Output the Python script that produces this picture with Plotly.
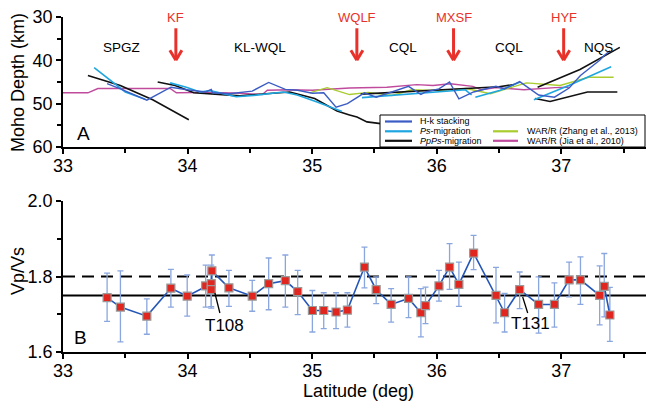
import plotly.graph_objects as go

# ---------------- Panel A: Moho depth profiles ----------------
hk_lat = [33.354, 33.461, 33.673, 33.866, 33.997, 34.145, 34.19, 34.20, 34.332, 34.519,
          34.651, 34.785, 34.884, 35.002, 35.093, 35.192, 35.283, 35.420, 35.514, 35.634,
          35.774, 35.873, 35.910, 36.018, 36.103, 36.178, 36.296, 36.476, 36.545, 36.666,
          36.818, 36.945, 37.063, 37.154, 37.308, 37.345, 37.390]
hk_depth = [45.4, 46.6, 49.2, 46.2, 46.8, 47.3, 46.7, 47.5, 47.7, 47.1,
            45.1, 46.7, 46.9, 47.6, 47.5, 50.8, 50.0, 47.5, 48.5, 47.3,
            46.0, 47.9, 47.3, 46.6, 45.0, 48.9, 47.3, 46.0, 46.6, 44.9,
            48.0, 48.5, 46.4, 43.5, 40.0, 38.9, 37.8]

ps_lat = [33.25, 33.42, 33.50, 33.66, None,
          33.86, 33.99, 34.10, 34.18, 34.39, 34.53, 34.77, 34.88, 35.04, 35.24, None,
          35.40, 35.55, 35.76, 36.03, 36.23, 36.28, None,
          36.31, 36.51, 36.67, None,
          36.78, 37.06, 37.40]
ps_depth = [41.7, 45.4, 47.3, 49.0, None,
            45.2, 46.2, 47.3, 47.0, 48.4, 48.1, 47.3, 48.0, 49.6, 51.8, None,
            48.6, 48.3, 47.8, 47.3, 46.8, 48.0, None,
            48.5, 46.9, 45.0, None,
            49.1, 45.8, 41.5]

ppps_lat = [33.20, 33.46, 33.72, 34.01, None,
            33.76, 33.90, 34.05, 34.18, 34.26, 34.42, 34.63, 34.82, 35.02, 35.20, 35.30,
            35.36, 35.44, 35.55, 35.65, None,
            35.39, 35.80, 36.10, 36.35, 36.50, 36.62, None,
            36.81, 37.15, 37.47, None,
            36.79, 36.91, 37.21, 37.45]
ppps_depth = [43.5, 45.8, 49.1, 53.7, None,
              45.0, 45.8, 47.5, 47.7, 47.8, 48.2, 47.7, 47.3, 48.8, 51.7, 52.6,
              53.1, 54.2, 54.6, 54.7, None,
              47.8, 47.2, 46.8, 46.4, 46.1, 45.6, None,
              46.2, 42.1, 37.0, None,
              48.8, 49.5, 47.3, 47.3]

zhang_lat = [34.98, 35.12, 35.30, 35.45, 35.64, 35.80, 36.00, 36.24, 36.43, 36.72,
             36.99, 37.22, 37.42]
zhang_depth = [47.5, 46.3, 47.9, 47.4, 48.1, 46.8, 47.0, 46.5, 47.7, 45.2,
               45.8, 43.9, 43.9]

jia_lat = [33.00, 33.20, 33.28, 33.86, 33.91, 34.20, 34.42, 34.60, 34.64, 34.82,
           35.00, 35.30, 35.60, 35.76, 35.84, 35.97, 36.11, 36.29, 36.36, 36.48,
           36.70, 36.95, 37.06]
jia_depth = [47.5, 47.5, 46.5, 46.5, 47.5, 47.4, 47.6, 47.9, 46.9, 46.8,
             46.9, 46.4, 46.2, 45.8, 45.6, 45.8, 45.4, 46.0, 46.8, 46.3,
             46.8, 46.3, 46.2]

# Tectonic units and faults
unit_names = ["SPGZ", "KL-WQL", "CQL", "CQL", "NQS"]
unit_lat = [33.47, 34.58, 35.73, 36.58, 37.30]
fault_names = ["KF", "WQLF", "MXSF", "HYF"]
fault_lat = [33.906, 35.359, 36.135, 37.019]

# ---------------- Panel B: Vp/Vs ratios ----------------
sta_lat = [33.354, 33.461, 33.673, 33.866, 33.997, 34.145, 34.190, 34.190, 34.195, 34.332,
           34.519, 34.651, 34.785, 34.884, 35.002, 35.093, 35.192, 35.283, 35.420, 35.514,
           35.634, 35.774, 35.873, 35.910, 36.018, 36.103, 36.178, 36.296, 36.476, 36.545,
           36.666, 36.818, 36.945, 37.063, 37.154, 37.308, 37.345, 37.390]
vpvs = [1.744, 1.719, 1.695, 1.769, 1.748, 1.775, 1.781, 1.765, 1.815, 1.770,
        1.748, 1.781, 1.789, 1.760, 1.710, 1.710, 1.706, 1.711, 1.825, 1.765,
        1.726, 1.742, 1.704, 1.723, 1.775, 1.825, 1.779, 1.862, 1.750, 1.704,
        1.765, 1.726, 1.726, 1.791, 1.791, 1.750, 1.774, 1.698]
vpvs_hi = [1.809, 1.815, 1.741, 1.819, 1.804, 1.830, 1.830, 1.822, 1.857, 1.816,
           1.790, 1.849, 1.857, 1.816, 1.763, 1.757, 1.757, 1.757, 1.878, 1.799,
           1.768, 1.799, 1.768, 1.772, 1.816, 1.887, 1.838, 1.909, 1.824, 1.755,
           1.812, 1.799, 1.783, 1.838, 1.852, 1.828, 1.861, 1.771]
vpvs_lo = [1.681, 1.627, 1.647, 1.719, 1.695, 1.719, 1.720, 1.716, 1.755, 1.721,
           1.708, 1.712, 1.719, 1.699, 1.653, 1.662, 1.662, 1.666, 1.770, 1.728,
           1.679, 1.691, 1.640, 1.675, 1.735, 1.766, 1.721, 1.818, 1.677, 1.653,
           1.715, 1.650, 1.666, 1.746, 1.726, 1.672, 1.693, 1.628]
ref_solid = 1.75
ref_dashed = 1.80
labelled_sta = [("T108", 34.195, 1.765), ("T131", 36.666, 1.765)]

FONT = "Liberation Sans, Arial, sans-serif"
C_HK, C_PS, C_PPPS = "#3b5cc4", "#1ea6e0", "#111111"
C_ZHANG, C_JIA = "#a9cc2e", "#c04b9d"
C_RED = "#e8312a"

# Page geometry (pixels) used to place paper-referenced decorations
W, H = 646, 408
ML, MR, MT, MB = 63, 0, 17, 56
PW, PH = W - ML - MR, H - MT - MB


def paper(px, py):
    return (px - ML) / PW, (H - MB - py) / PH


def label(px, py, text, size, color="black", angle=0, xanchor="center"):
    fx, fy = paper(px, py)
    return dict(x=fx, y=fy, xref="paper", yref="paper", text=text, showarrow=False,
                textangle=angle, xanchor=xanchor, yanchor="middle",
                font=dict(family=FONT, size=size, color=color))


fig = go.Figure()

for lat, dep, col, name, w in [
    (jia_lat, jia_depth, C_JIA, "WAR/R (Jia et al., 2010)", 1.4),
    (zhang_lat, zhang_depth, C_ZHANG, "WAR/R (Zhang et al., 2013)", 1.4),
    (ppps_lat, ppps_depth, C_PPPS, "PpPs-migration", 1.6),
    (ps_lat, ps_depth, C_PS, "Ps-migration", 1.6),
    (hk_lat, hk_depth, C_HK, "H-k stacking", 1.4),
]:
    fig.add_trace(go.Scatter(x=lat, y=dep, mode="lines", name=name,
                             line=dict(color=col, width=w), xaxis="x", yaxis="y",
                             connectgaps=False))

fig.add_trace(go.Scatter(
    x=sta_lat, y=vpvs, mode="lines+markers", xaxis="x2", yaxis="y2",
    line=dict(color="#2456b8", width=1.6),
    marker=dict(symbol="square", size=8, color="#e0261f",
                line=dict(color="#9a9a9a", width=1.2)),
    error_y=dict(type="data", symmetric=False,
                 array=[h - v for h, v in zip(vpvs_hi, vpvs)],
                 arrayminus=[v - l for v, l in zip(vpvs, vpvs_lo)],
                 color="#8aa6de", thickness=1.3, width=3),
))

shapes = []
annotations = []

# Reference Vp/Vs levels
shapes.append(dict(type="line", xref="x2 domain", yref="y2", x0=0, x1=1,
                   y0=ref_solid, y1=ref_solid, line=dict(color="black", width=2), layer="below"))
shapes.append(dict(type="line", xref="x2 domain", yref="y2", x0=0, x1=1,
                   y0=ref_dashed, y1=ref_dashed,
                   line=dict(color="black", width=2, dash="12px,7px"), layer="below"))

# Fault arrows
px_per_deg = PW / (37.68 - 33.0)
px_per_km = 130.0 / 30.0
for name, lat in zip(fault_names, fault_lat):
    shapes.append(dict(type="line", xref="x", yref="y", x0=lat, x1=lat, y0=32.6, y1=39.8,
                       line=dict(color=C_RED, width=3)))
    dx = 6 / px_per_deg
    dy = 10 / px_per_km
    for s in (-1, 1):
        shapes.append(dict(type="line", xref="x", yref="y", x0=lat + s * dx, x1=lat,
                           y0=40 - dy, y1=40, line=dict(color=C_RED, width=3)))
    annotations.append(dict(x=lat, y=30.1, xref="x", yref="y", text=name, showarrow=False,
                            xanchor="center", yanchor="middle",
                            font=dict(family=FONT, size=13, color=C_RED)))

for name, lat in zip(unit_names, unit_lat):
    annotations.append(dict(x=lat, y=37.0, xref="x", yref="y", text=name, showarrow=False,
                            xanchor="center", yanchor="middle",
                            font=dict(family=FONT, size=13.5, color="black")))

# Panel letters
annotations.append(label(83, 133, "A", 19))
annotations.append(label(80, 337, "B", 19))

# Station labels with leader lines
for (txt, lat, val), (tx, ty) in zip(labelled_sta, [(224, 325), (530, 323)]):
    px0 = ML + (lat - 33.0) * px_per_deg
    fx0, fy0 = paper(px0 + 3, 293 if txt == "T108" else 297)
    fx1, fy1 = paper(px0 + 8, 313)
    shapes.append(dict(type="line", xref="paper", yref="paper", x0=fx0, y0=fy0, x1=fx1, y1=fy1,
                       line=dict(color="black", width=1.3)))
    annotations.append(label(tx, ty, txt, 17))

# Axis titles
annotations.append(label(18, 83, "Moho Depth (km)", 18, angle=-90))
annotations.append(label(18, 271, "Vp/Vs", 18, angle=-90))
annotations.append(label(358, 391, "Latitude (deg)", 18))

# Legend box for panel A
x0, y0 = paper(380, 115)
x1, y1 = paper(645, 147)
shapes.append(dict(type="rect", xref="paper", yref="paper", x0=x0, y0=y1, x1=x1, y1=y0,
                   fillcolor="white", line=dict(color="black", width=1), layer="above"))
legend_items = [
    ("H-k stacking", C_HK, 385, 412, 418, 121.5),
    ("<i>Ps</i>-migration", C_PS, 385, 412, 418, 131.3),
    ("<i>PpPs</i>-migration", C_PPPS, 385, 412, 418, 140.8),
    ("WAR/R (Zhang et al., 2013)", C_ZHANG, 493, 518, 525, 131.3),
    ("WAR/R (Jia et al., 2010)", C_JIA, 493, 518, 525, 140.8),
]
for txt, col, lx0, lx1, tx, ly in legend_items:
    a, b = paper(lx0, ly)
    c, _ = paper(lx1, ly)
    shapes.append(dict(type="line", xref="paper", yref="paper", x0=a, x1=c, y0=b, y1=b,
                       line=dict(color=col, width=2.2), layer="above"))
    annotations.append(label(tx, ly, txt, 9, xanchor="left"))

axis_common = dict(showgrid=False, zeroline=False, showline=True, linecolor="black",
                   linewidth=1.5, ticks="outside", ticklen=5, tickwidth=1.5,
                   tickcolor="black", tickfont=dict(family=FONT, size=18, color="black"))
x_minor = dict(dtick=0.5, ticks="outside", ticklen=4, tickwidth=1.5, tickcolor="black")

fig.update_layout(
    width=W, height=H, margin=dict(l=ML, r=MR, t=MT, b=MB),
    paper_bgcolor="white", plot_bgcolor="white", showlegend=False,
    xaxis=dict(anchor="y", range=[33, 37.68], dtick=1, tick0=33, minor=x_minor,
               ticklabelstandoff=-3, **axis_common),
    yaxis=dict(anchor="x", domain=[0.612, 1.0], range=[60, 30], dtick=10, tick0=30,
               minor=dict(dtick=5, ticks="outside", ticklen=4, tickwidth=1.5, tickcolor="black"),
               **axis_common),
    xaxis2=dict(anchor="y2", range=[33, 37.68], dtick=1, tick0=33, minor=x_minor,
                ticklabelstandoff=-3, **axis_common),
    yaxis2=dict(anchor="x2", domain=[0.0, 0.4507], range=[1.6, 2.0], dtick=0.2, tick0=1.6,
                tickformat=".1f",
                minor=dict(dtick=0.1, ticks="outside", ticklen=4, tickwidth=1.5, tickcolor="black"),
                **axis_common),
    shapes=shapes, annotations=annotations,
)

fig.write_html("out.html")
